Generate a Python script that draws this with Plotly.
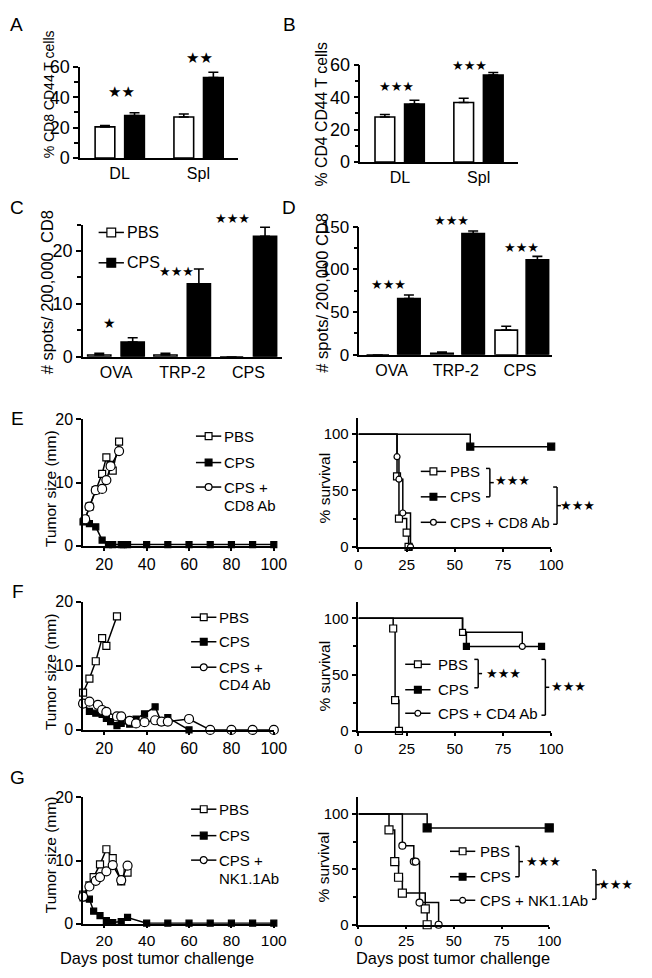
import plotly.graph_objects as go

PAGE_W, PAGE_H = 652, 978
OFF = 8                      # default body margin of the page
W, H = PAGE_W - 2 * OFF, PAGE_H - 2 * OFF
def X(px): return (px - OFF) / W
def Y(py): return 1 - (py - OFF) / H

FONT = "Liberation Sans, Arial, Helvetica, sans-serif"

# ---------------- data ----------------
groups_AB = ["DL", "Spl"]
A_pbs = [20.5, 27.0]; A_pbs_err = [0.9, 2.0]
A_cps = [28.0, 53.0]; A_cps_err = [1.8, 3.5]
B_pbs = [27.8, 36.8]; B_pbs_err = [1.6, 2.6]
B_cps = [35.8, 53.8]; B_cps_err = [2.4, 1.6]

peptides = ["OVA", "TRP-2", "CPS"]
C_pbs = [0.35, 0.35, 0.0]; C_pbs_err = [0.3, 0.3, 0.0]
C_cps = [2.8, 13.8, 22.8]; C_cps_err = [0.8, 2.8, 1.7]
D_pbs = [0.0, 1.9, 28.9]; D_pbs_err = [0.0, 1.5, 4.6]
D_cps = [65.8, 141.8, 111.0]; D_cps_err = [4.2, 3.1, 4.2]

# tumor growth (days, mm)
E_pbs_d = [11, 13, 16, 19, 21, 23, 24, 27]
E_pbs_v = [4.2, 6.2, 8.8, 11.4, 14.0, 12.8, 11.9, 16.5]
E_cps_d = [10, 13, 16, 19, 22, 24, 28, 29, 31, 40, 50, 60, 70, 80, 90, 100]
E_cps_v = [3.8, 3.5, 3.0, 0.9, 0.2, 0.2, 0.2, 0.2, 0.2, 0.2, 0.2, 0.2, 0.2, 0.2, 0.2, 0.2]
E_ab_d = [11, 13, 16, 19, 21, 23, 27]
E_ab_v = [4.2, 6.2, 8.8, 9.0, 10.4, 12.6, 15.0]

F_pbs_d = [10, 13, 16, 19, 21, 26]
F_pbs_v = [5.8, 8.0, 10.7, 14.3, 13.1, 17.7]
F_cps_d = [10, 13, 16, 19, 21, 23, 26, 28, 32, 35, 39, 44, 47, 50, 60]
F_cps_v = [4.2, 2.9, 2.6, 2.4, 1.8, 1.3, 0.65, 1.0, 0.9, 1.7, 2.5, 3.6, 1.2, 1.9, 0.0]
F_ab_d = [10, 13, 17, 19, 21, 26, 28, 32, 35, 39, 44, 47, 50, 60, 70, 80, 90, 100]
F_ab_v = [4.1, 4.4, 3.9, 3.1, 2.8, 2.1, 2.1, 1.4, 1.0, 1.2, 1.5, 1.3, 1.3, 1.7, 0.0, 0.0, 0.0, 0.0]

G_pbs_d = [10, 13, 15, 18, 21, 24, 28, 31]
G_pbs_v = [4.6, 6.1, 7.4, 9.4, 11.8, 10.4, 6.7, 8.1]
G_cps_d = [10, 13, 15, 18, 21, 24, 28, 31, 40, 50, 60, 70, 80, 90, 100]
G_cps_v = [4.1, 3.9, 2.0, 1.3, 0.5, 0.2, 0.35, 1.0, 0.1, 0.1, 0.1, 0.1, 0.1, 0.1, 0.1]
G_ab_d = [10, 13, 16, 18, 21, 24, 28, 31]
G_ab_v = [4.3, 5.9, 6.8, 7.4, 8.3, 9.3, 6.9, 9.2]

# survival (days, %)
SE_pbs_t = [0, 20, 21, 25, 26];      SE_pbs_s = [100, 62.5, 25, 12.5, 0]
SE_cps_t = [0, 58, 100];             SE_cps_s = [100, 88.9, 88.9]
SE_ab_t = [0, 20, 21, 23, 27];       SE_ab_s = [100, 80, 60, 30, 0]

SF_pbs_t = [0, 18, 19, 21];          SF_pbs_s = [100, 90.9, 27.3, 0]
SF_cps_t = [0, 54, 56, 95];          SF_cps_s = [100, 87.5, 75, 75]
SF_ab_t = [0, 54, 85];               SF_ab_s = [100, 87.5, 75]

SG_pbs_t = [0, 16, 19, 21, 23, 35, 36]; SG_pbs_s = [100, 85.7, 57.1, 42.9, 28.6, 14.3, 0]
SG_cps_t = [0, 36, 100];                SG_cps_s = [100, 87.5, 87.5]
SG_ab_t = [0, 23, 29, 30, 32, 42];      SG_ab_s = [100, 71.4, 57.1, 57.1, 20, 0]

# ---------------- figure ----------------
fig = go.Figure()
LW = 1.6

def err(arr):
    return dict(type='data', array=arr, arrayminus=[0] * len(arr), symmetric=False,
                color='black', thickness=LW, width=5)

def bars(cats, pbs, pbs_e, cps, cps_e, ax, off_open, off_black, w):
    xa, ya = ax
    fig.add_trace(go.Bar(x=cats, y=pbs, xaxis=xa, yaxis=ya, offset=off_open, width=w,
                         marker=dict(color='white', line=dict(color='black', width=LW)),
                         error_y=err(pbs_e), showlegend=False))
    fig.add_trace(go.Bar(x=cats, y=cps, xaxis=xa, yaxis=ya, offset=off_black, width=w,
                         marker=dict(color='black', line=dict(color='black', width=LW)),
                         error_y=err(cps_e), showlegend=False))

bars(groups_AB, A_pbs, A_pbs_err, A_cps, A_cps_err, ('x', 'y'), -0.31, 0.065, 0.25)
bars(groups_AB, B_pbs, B_pbs_err, B_cps, B_cps_err, ('x2', 'y2'), -0.315, 0.06, 0.25)
bars(peptides, C_pbs, C_pbs_err, C_cps, C_cps_err, ('x3', 'y3'), -0.43, 0.075, 0.35)
bars(peptides, D_pbs, D_pbs_err, D_cps, D_cps_err, ('x4', 'y4'), -0.39, 0.095, 0.35)

def tumor(d, v, ax, symbol, fill, size):
    xa, ya = ax
    fig.add_trace(go.Scatter(x=d, y=v, xaxis=xa, yaxis=ya, mode='lines+markers',
                             line=dict(color='black', width=1.5),
                             marker=dict(symbol=symbol, color=fill, size=size,
                                         line=dict(color='black', width=1.2)),
                             cliponaxis=False, showlegend=False))

for (pd_, pv, cd, cv, ad, av, ax) in [
        (E_pbs_d, E_pbs_v, E_cps_d, E_cps_v, E_ab_d, E_ab_v, ('x5', 'y5')),
        (F_pbs_d, F_pbs_v, F_cps_d, F_cps_v, F_ab_d, F_ab_v, ('x7', 'y7')),
        (G_pbs_d, G_pbs_v, G_cps_d, G_cps_v, G_ab_d, G_ab_v, ('x9', 'y9'))]:
    tumor(pd_, pv, ax, 'square', 'white', 7)
    tumor(cd, cv, ax, 'square', 'black', 6)
    tumor(ad, av, ax, 'circle', 'white', 9)

def surv(t, s, ax, symbols, fills, size, start=1):
    xa, ya = ax
    fig.add_trace(go.Scatter(x=t, y=s, xaxis=xa, yaxis=ya, mode='lines',
                             line=dict(color='black', width=1.5, shape='hv'),
                             cliponaxis=False, showlegend=False))
    fig.add_trace(go.Scatter(x=t[start:], y=s[start:], xaxis=xa, yaxis=ya, mode='markers',
                             marker=dict(symbol=symbols, color=fills, size=size,
                                         line=dict(color='black', width=1.2)),
                             cliponaxis=False, showlegend=False))

surv(SE_pbs_t, SE_pbs_s, ('x6', 'y6'), 'square', 'white', 7)
surv(SE_cps_t, SE_cps_s, ('x6', 'y6'), 'square', 'black', 7)
surv(SE_ab_t, SE_ab_s, ('x6', 'y6'), 'circle', 'white', 6)

surv(SF_pbs_t, SF_pbs_s, ('x8', 'y8'), 'square', 'white', 7)
surv(SF_cps_t, SF_cps_s, ('x8', 'y8'), 'square', 'black', 6, start=2)
surv(SF_ab_t, SF_ab_s, ('x8', 'y8'), ['square', 'circle'], 'white', 6)

surv(SG_pbs_t, SG_pbs_s, ('x10', 'y10'), 'square', 'white', 8)
surv(SG_cps_t, SG_cps_s, ('x10', 'y10'), 'square', 'black', 8)
surv(SG_ab_t, SG_ab_s, ('x10', 'y10'), 'circle', 'white', 7)

# ---------------- axes ----------------
def xaxis(px0, px1, anchor, rng=None, tickvals=None, ticks='', size=16, ticklen=3):
    d = dict(domain=[X(px0), X(px1)], anchor=anchor, showline=True, linecolor='black',
             linewidth=LW, ticks=ticks, ticklen=ticklen, tickwidth=LW, tickcolor='black',
             showgrid=False, zeroline=False,
             tickfont=dict(family=FONT, size=size, color='black'))
    if rng is not None:
        d['range'] = rng
    if tickvals is not None:
        d['tickvals'] = tickvals
    return d

def yaxis(py0, py1, anchor, rng, dtick, mdtick, size=17):
    return dict(domain=[Y(py0), Y(py1)], anchor=anchor, range=rng, showline=True,
                linecolor='black', linewidth=LW, ticks='outside', ticklen=5,
                tickwidth=LW, tickcolor='black', tick0=0, dtick=dtick,
                showgrid=False, zeroline=False,
                minor=dict(ticks='outside', dtick=mdtick, tick0=0, ticklen=4,
                           tickwidth=LW, tickcolor='black', showgrid=False),
                tickfont=dict(family=FONT, size=size, color='black'))

lay = {}
lay['xaxis'] = xaxis(78, 240, 'y', rng=[-0.5, 1.5])
lay['yaxis'] = yaxis(151, 58, 'x', [0, 60], 20, 10, 18)
lay['xaxis2'] = xaxis(366, 528, 'y2', rng=[-0.5, 1.5])
lay['yaxis2'] = yaxis(155, 56, 'x2', [0, 60], 20, 10, 18)
lay['xaxis3'] = xaxis(81, 285, 'y3', rng=[-0.5, 2.5])
lay['yaxis3'] = yaxis(354, 219, 'x3', [0, 25], 10, 5, 18)
lay['xaxis4'] = xaxis(365, 563, 'y4', rng=[-0.5, 2.5])
lay['yaxis4'] = yaxis(352, 221, 'x4', [0, 150], 50, 25, 17)

tum_ticks = [20, 40, 60, 80, 100]
surv_ticks = [0, 25, 50, 75, 100]
lay['xaxis5'] = xaxis(81, 277, 'y5', rng=[10, 100], tickvals=tum_ticks, ticks='outside')
lay['yaxis5'] = yaxis(547, 418, 'x5', [0, 20], 10, 10, 16)
lay['xaxis6'] = xaxis(364, 562, 'y6', rng=[0, 100], tickvals=surv_ticks, ticks='outside', size=15)
lay['yaxis6'] = yaxis(548, 417, 'x6', [0, 113.9], 50, 25, 15)
lay['xaxis7'] = xaxis(81, 277, 'y7', rng=[10, 100], tickvals=tum_ticks, ticks='outside')
lay['yaxis7'] = yaxis(735, 604, 'x7', [0, 20], 10, 10, 16)
lay['xaxis8'] = xaxis(364, 562, 'y8', rng=[0, 100], tickvals=surv_ticks, ticks='outside', size=15)
lay['yaxis8'] = yaxis(736, 604, 'x8', [0, 114.8], 50, 25, 15)
lay['xaxis9'] = xaxis(81, 277, 'y9', rng=[10, 100], tickvals=tum_ticks, ticks='outside',
                      size=15.5, ticklen=2)
lay['yaxis9'] = yaxis(933, 804, 'x9', [0, 20], 10, 10, 16)
lay['xaxis10'] = xaxis(364, 560, 'y10', rng=[0, 100], tickvals=surv_ticks, ticks='outside',
                       size=14.5, ticklen=2)
lay['yaxis10'] = yaxis(934, 804, 'x10', [0, 115], 50, 25, 15)

# ---------------- annotations & shapes ----------------
annotations = []
shapes = []

def text(px, py, s, size=15, xanchor='center', angle=0, family=FONT):
    annotations.append(dict(x=X(px), y=Y(py), xref='paper', yref='paper', text=s,
                            showarrow=False, xanchor=xanchor, yanchor='middle',
                            textangle=angle, borderpad=0,
                            font=dict(family=family, size=size, color='black')))

def seg(x0, y0, x1, y1):
    shapes.append(dict(type='line', xref='paper', yref='paper', x0=X(x0), y0=Y(y0),
                       x1=X(x1), y1=Y(y1), line=dict(color='black', width=1.5)))

def mark(xc, yc, kind, fill, size):
    shapes.append(dict(type='rect' if kind == 'square' else 'circle', xref='paper',
                       yref='paper', x0=X(xc - size / 2), x1=X(xc + size / 2),
                       y0=Y(yc + size / 2), y1=Y(yc - size / 2), fillcolor=fill,
                       line=dict(color='black', width=1.2)))

def glyph(xc, yc, kind, fill, size, half=13):
    seg(xc - half, yc, xc + half, yc)
    mark(xc, yc, kind, fill, size)

def bracket(x, y0, y1):
    seg(x - 4, y0, x, y0)
    seg(x, y0, x, y1)
    seg(x - 4, y1, x, y1)
    seg(x, (y0 + y1) / 2, x + 4, (y0 + y1) / 2)

STAR = "DejaVu Sans"
def stars(px, py, n, size=13):
    text(px, py, "★" * n, size=size, family=STAR)

# panel letters
for L, px, py in [("A", 13, 15), ("B", 293, 15), ("C", 13, 202), ("D", 293, 202),
                  ("E", 14, 417), ("F", 14, 594), ("G", 14, 784)]:
    text(px, py, L, size=19)

# y-axis titles
text(46, 86, "% CD8 CD44 T cells", size=14, angle=-90)
text(326, 107, "% CD4 CD44 T cells", size=15.8, angle=-90)
text(44, 288, "# spots/ 200,000  CD8", size=16.5, angle=-90)
text(327, 288, "# spots/ 200,000 CD8", size=16.5, angle=-90)
for py in (488, 675, 862):
    text(47, py, "Tumor size (mm)", size=15.5, angle=-90)
for py in (488, 680, 875):
    text(329, py, "% survival", size=15.5, angle=-90)
text(157, 968, "Days post tumor challenge", size=16.4)
text(461, 968, "Days post tumor challenge", size=16.4)

# significance stars, bar panels
stars(121, 84, 2, 15); stars(201, 49, 2, 15)
stars(403, 78, 3); stars(478, 57, 3)
stars(108, 319, 1, 14); stars(177, 267, 3); stars(235, 213, 3)
stars(395, 280, 3); stars(460, 215, 3); stars(531, 242, 3)

# legend of C
glyph(110, 227, 'square', 'white', 9)
text(125, 227, "PBS", size=16, xanchor='left')
glyph(110, 258, 'square', 'black', 9)
text(125, 258, "CPS", size=16, xanchor='left')

# tumor legends
for (xc, ys, second) in [(210, (435, 462, 487, 506), "CD8 Ab"),
                         (205, (620, 645, 671, 689), "CD4 Ab"),
                         (205, (816, 843, 868, 887), "NK1.1Ab")]:
    tx = xc + 15
    glyph(xc, ys[0], 'square', 'white', 7)
    text(tx, ys[0], "PBS", size=15, xanchor='left')
    glyph(xc, ys[1], 'square', 'black', 7)
    text(tx, ys[1], "CPS", size=15, xanchor='left')
    glyph(xc, ys[2], 'circle', 'white', 7)
    text(tx, ys[2], "CPS +", size=15, xanchor='left')
    text(tx, ys[3], second, size=15, xanchor='left')

# survival legends
for (xc, tx, ys, lab, b1, b2) in [
        (441, 457, (471, 497, 523), "CPS + CD8 Ab", (499, 468, 497, 522, 480), (568, 487, 525, 589, 506)),
        (425, 445, (668, 694, 718), "CPS + CD4 Ab", (487, 663, 692, 513, 677), (556, 663, 720, 580, 691)),
        (471, 488, (859, 885, 909), "CPS + NK1.1Ab", (529, 854, 885, 554, 869), (608, 878, 908, 628, 893))]:
    glyph(xc, ys[0], 'square', 'white', 7)
    glyph(xc, ys[1], 'square', 'black', 7)
    glyph(xc, ys[2], 'circle', 'white', 6)
    text(tx, ys[0], "PBS", size=15, xanchor='left')
    text(tx, ys[1], "CPS", size=15, xanchor='left')
    text(tx, ys[2], lab, size=15, xanchor='left')
    bracket(b1[0], b1[1], b1[2]); stars(b1[3], b1[4], 3)
    bracket(b2[0], b2[1], b2[2]); stars(b2[3], b2[4], 3)

fig.update_layout(**lay)
fig.update_layout(width=W, height=H, margin=dict(l=0, r=0, t=0, b=0),
                  paper_bgcolor='white', plot_bgcolor='white', barmode='overlay',
                  showlegend=False, annotations=annotations, shapes=shapes,
                  font=dict(family=FONT, color='black'))

fig.write_html("out.html", config={'displayModeBar': False})
